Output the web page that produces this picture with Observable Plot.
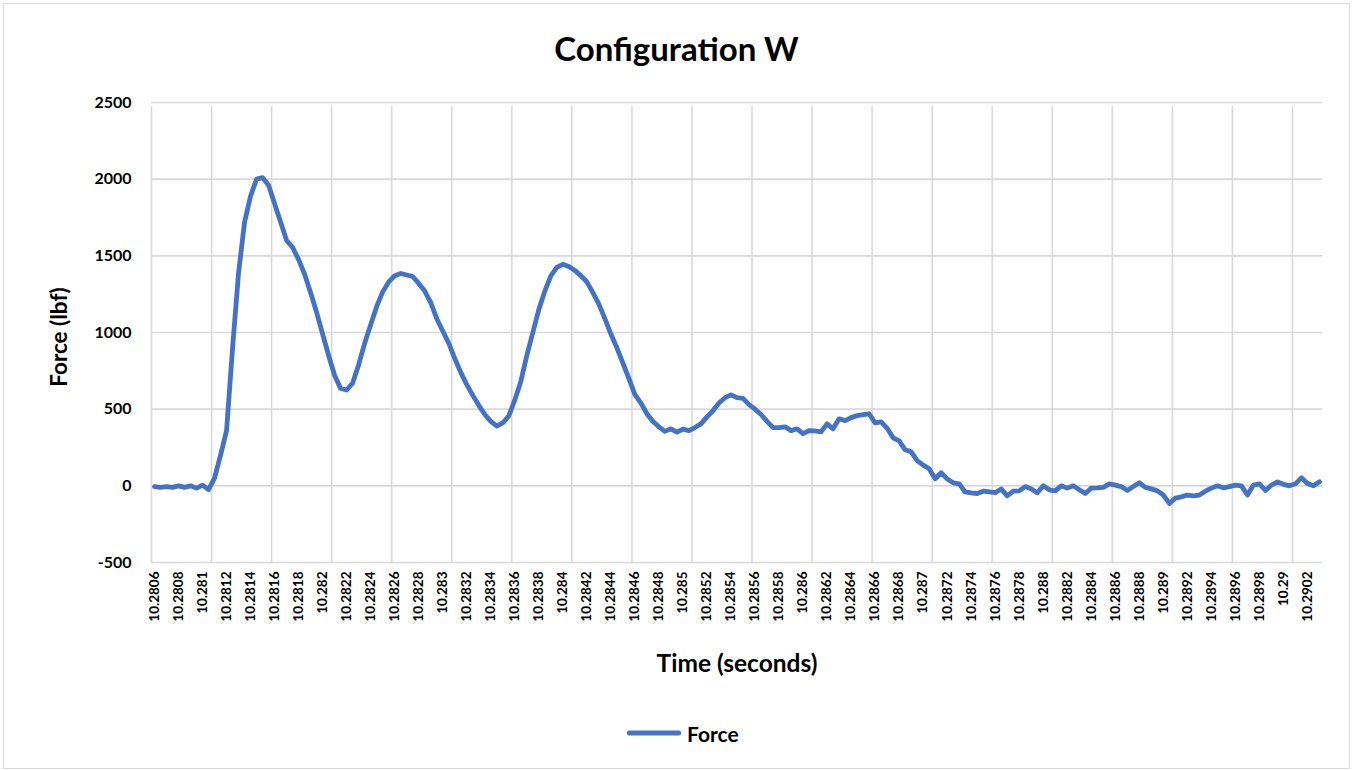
<!DOCTYPE html>
<html>
<head>
<meta charset="utf-8">
<script src="https://cdn.jsdelivr.net/npm/d3@7"></script>
<script src="https://cdn.jsdelivr.net/npm/@observablehq/plot@0.6"></script>
<style>
  body { margin: 0; background: #fff; font-family: Lato, "Open Sans", sans-serif; }
  #wrap { position: relative; width: 1353px; height: 770px; overflow: hidden; background: #fff; }
  #frame { position: absolute; left: 3px; top: 3px; width: 1347px; height: 766px; border: 1px solid #d9d9d9; box-sizing: border-box; }
  #title { position: absolute; top: 29px; left: 0; width: 1353px; text-align: center; font-weight: 700; font-size: 33px; color: #000; line-height: 38px; }
  #chart { position: absolute; left: 0; top: 0; }
  #ylabel { position: absolute; left: 58px; top: 337px; transform: translate(-50%, -50%) rotate(-90deg); font-weight: 700; font-size: 22.5px; white-space: nowrap; color: #000; }
  #xlabel { position: absolute; left: 737px; top: 662px; transform: translate(-50%, -50%); font-weight: 700; font-size: 24.5px; white-space: nowrap; color: #000; }
  #legend { position: absolute; left: 627px; top: 733px; transform: translateY(-50%); display: flex; align-items: center; font-weight: 700; font-size: 21px; color: #000; }
  #legend .sw { display: inline-block; width: 54px; height: 5px; background: #4472C4; margin-right: 6px; border-radius: 2px; }
</style>
</head>
<body>
<div id="wrap">
  <div id="frame"></div>
  <div id="chart"></div>
  <div id="title">Configuration W</div>
  <div id="ylabel">Force (lbf)</div>
  <div id="xlabel">Time (seconds)</div>
  <div id="legend"><span class="sw"></span><span>Force</span></div>
</div>
<script>
// Force (lbf) samples, one per time step (labels every 4 samples)
const force = [
  -5, -10, -5, -10, 0, -10, 0, -15, 5, -25,
  50, 200, 360, 900, 1390, 1720, 1890, 2000, 2010, 1960,
  1840, 1720, 1600, 1555, 1475, 1380, 1260, 1130, 990, 850,
  720, 635, 625, 670, 790, 930, 1050, 1170, 1265, 1330,
  1370, 1385, 1375, 1365, 1320, 1270, 1195, 1090, 1010, 930,
  830, 740, 660, 590, 525, 465, 420, 390, 410, 456,
  560, 680, 850, 1000, 1150, 1270, 1370, 1425, 1445, 1430,
  1405, 1370, 1330, 1260, 1185, 1090, 990, 900, 800, 700,
  595, 540, 470, 420, 385, 355, 372, 350, 370, 360,
  380, 404, 450, 490, 540, 575, 593, 575, 570, 530,
  500, 465, 420, 380, 380, 385, 360, 372, 340, 360,
  358, 352, 404, 372, 437, 425, 445, 458, 465, 470,
  410, 417, 375, 313, 293, 235, 222, 165, 135, 111,
  46, 85, 45, 20, 13, -40, -46, -50, -35, -40,
  -45, -20, -65, -35, -33, -5, -20, -45, 0, -26,
  -33, 0, -15, 0, -25, -50, -15, -13, -10, 13,
  5, -5, -30, -5, 20, -10, -20, -33, -60, -115,
  -80, -72, -60, -65, -60, -35, -15, 0, -13, -5,
  5, 0, -59, 5, 13, -30, 5, 25, 10, 0,
  13, 52, 15, 0, 26
];

// Time tick labels (one every 4 samples)
const tickLabels = [
  "10.2806","10.2808","10.281","10.2812","10.2814","10.2816","10.2818","10.282",
  "10.2822","10.2824","10.2826","10.2828","10.283","10.2832","10.2834","10.2836",
  "10.2838","10.284","10.2842","10.2844","10.2846","10.2848","10.285","10.2852",
  "10.2854","10.2856","10.2858","10.286","10.2862","10.2864","10.2866","10.2868",
  "10.287","10.2872","10.2874","10.2876","10.2878","10.288","10.2882","10.2884",
  "10.2886","10.2888","10.289","10.2892","10.2894","10.2896","10.2898","10.29",
  "10.2902"
];

const yTicks = [-500, 0, 500, 1000, 1500, 2000, 2500];

const rows = force.map((v, i) => ({i, v}));
const tickIdx = tickLabels.map((_, k) => 4 * k);
const gridIdx = d3.range(0, 20).map(k => 10 * k - 0.5);
const n = force.length;

const chart = Plot.plot({
  width: 1353,
  height: 700,
  marginLeft: 151,
  marginRight: 31,
  marginTop: 102,
  marginBottom: 138,
  x: {type: "linear", domain: [-0.5, n - 0.5], axis: null},
  y: {type: "linear", domain: [-500, 2500], axis: null},
  style: {fontFamily: 'Lato, "Open Sans", sans-serif', background: "transparent", color: "#000"},
  marks: [
    Plot.ruleY(yTicks, {stroke: "#d9d9d9", strokeWidth: 1.6}),
    Plot.ruleX(gridIdx, {y1: -500, y2: 2500, insetBottom: -4, stroke: "#d9d9d9", strokeWidth: 1.6}),
    Plot.axisY(yTicks, {tickSize: 0, tickPadding: 20, tickFormat: d => String(d), fontSize: 16, fontWeight: 700, label: null}),
    Plot.axisX(tickIdx, {tickFormat: d => tickLabels[d / 4], tickRotate: -90, tickSize: 0, tickPadding: 9, fontSize: 13.5, fontWeight: 700, label: null}),
    Plot.line(rows, {x: "i", y: "v", stroke: "#4472C4", strokeWidth: 4.8, strokeLinejoin: "round", strokeLinecap: "round"})
  ]
});
document.getElementById("chart").appendChild(chart);
</script>
</body>
</html>
